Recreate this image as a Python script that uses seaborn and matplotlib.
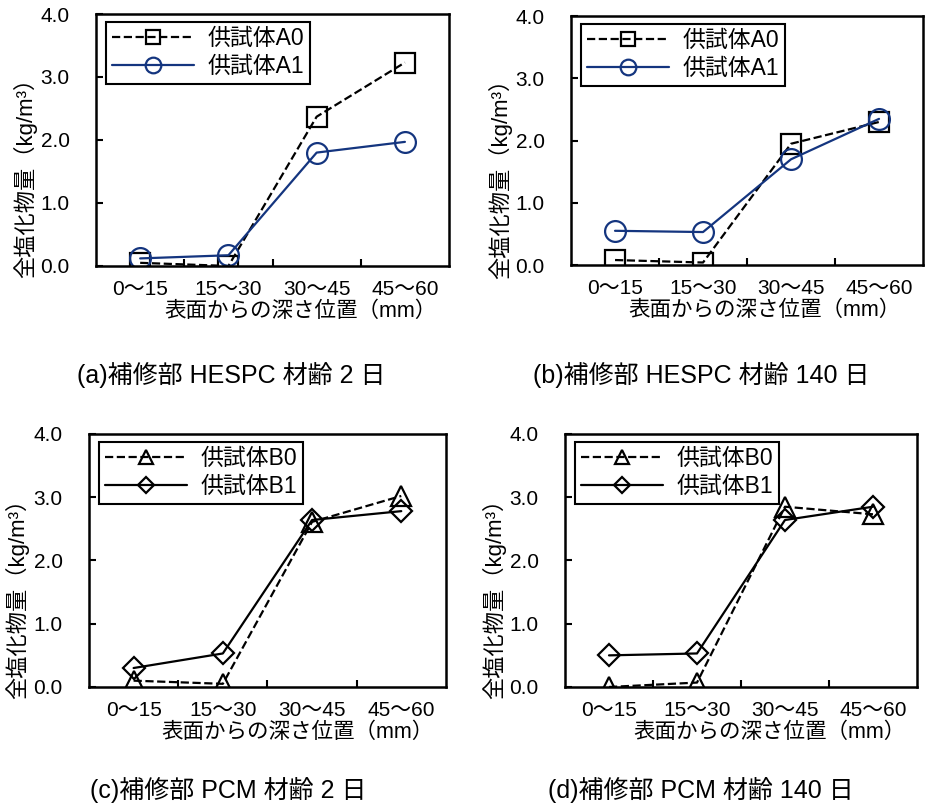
import numpy as np
import seaborn as sns
import matplotlib.pyplot as plt

# データ
depths = ['0～15', '15～30', '30～45', '45～60']
a0_2d = [0.05, 0.00, 2.37, 3.23]
a1_2d = [0.12, 0.17, 1.80, 1.97]
a0_140d = [0.08, 0.04, 1.95, 2.30]
a1_140d = [0.55, 0.53, 1.70, 2.35]
b0_2d = [0.10, 0.05, 2.61, 3.02]
b1_2d = [0.30, 0.53, 2.64, 2.78]
b0_140d = [0.00, 0.07, 2.85, 2.73]
b1_140d = [0.50, 0.53, 2.64, 2.85]

titles = ['(a)補修部 HESPC 材齢 2 日', '(b)補修部 HESPC 材齢 140 日',
          '(c)補修部 PCM 材齢 2 日', '(d)補修部 PCM 材齢 140 日']

sns.set_style('ticks')
plt.rcParams['font.family'] = ['Liberation Sans', 'Noto Sans CJK JP', 'DejaVu Sans']
plt.rcParams.update({'axes.edgecolor': 'black', 'text.color': 'black',
                     'axes.labelcolor': 'black', 'xtick.color': 'black',
                     'ytick.color': 'black'})

navy = '#14357f'
fig = plt.figure(figsize=(9.27, 8.05), dpi=100)

axes_pos = [[0.1036, 0.6696, 0.3808, 0.313],
            [0.616, 0.6708, 0.3797, 0.309],
            [0.096, 0.1466, 0.385, 0.3143],
            [0.6095, 0.1466, 0.3797, 0.3143]]
xlab_x = [0.578, 0.551, 0.583, 0.58]
title_xy = [(77, 375), (533, 375), (90, 790), (548, 790)]

series = [
    [('供試体A0', a0_2d, 's', '--', 'black', 14), ('供試体A1', a1_2d, 'o', '-', navy, 15)],
    [('供試体A0', a0_140d, 's', '--', 'black', 14), ('供試体A1', a1_140d, 'o', '-', navy, 15)],
    [('供試体B0', b0_2d, '^', '--', 'black', 14), ('供試体B1', b1_2d, 'D', '-', 'black', 11)],
    [('供試体B0', b0_140d, '^', '--', 'black', 14), ('供試体B1', b1_140d, 'D', '-', 'black', 11)],
]

for i in range(4):
    ax = fig.add_axes(axes_pos[i])
    for name, vals, mk, ls, col, ms in series[i]:
        sns.lineplot(x=depths, y=vals, ax=ax, marker=mk, linestyle=ls, color=col,
                     linewidth=1.6, markersize=ms, markerfacecolor='none',
                     markeredgecolor=col, markeredgewidth=1.6, label=name)
    ax.set_xlim(-0.5, 3.5)
    ax.set_ylim(0, 4.0)
    ax.set_yticks(np.arange(0, 4.01, 1.0))
    ax.set_yticklabels([f'{v:.1f}' for v in np.arange(0, 4.01, 1.0)])
    ax.set_xticks(range(4))
    ax.set_xticklabels(depths)
    ax.set_xticks([0.5, 1.5, 2.5], minor=True)
    ax.tick_params(axis='x', which='major', length=0, pad=10, labelsize=15)
    ax.tick_params(axis='x', which='minor', direction='in', length=5, width=1.5)
    ax.tick_params(axis='y', direction='in', length=5, width=1.5, pad=19, labelsize=15)
    for sp in ax.spines.values():
        sp.set_linewidth(1.8)
    ax.set_xlabel('表面からの深さ位置（mm）', fontsize=15.5)
    ax.xaxis.set_label_coords(xlab_x[i], -0.14)
    ax.set_ylabel('全塩化物量（kg/m³）', fontsize=16)
    ax.yaxis.set_label_coords(-0.168, 0.37)
    leg = ax.legend(loc='upper left', bbox_to_anchor=(0.028, 0.97), borderaxespad=0,
                    fontsize=16.5, handlelength=3.6, fancybox=False, framealpha=1,
                    edgecolor='black', borderpad=0.25, labelspacing=0.2, markerscale=0.75,
                    handletextpad=0.6)
    leg.get_frame().set_linewidth(1.5)
    fig.text(title_xy[i][0] / 927, 1 - title_xy[i][1] / 805, titles[i],
             fontsize=18, ha='left', va='center')

fig.savefig('out.png', dpi=100)
